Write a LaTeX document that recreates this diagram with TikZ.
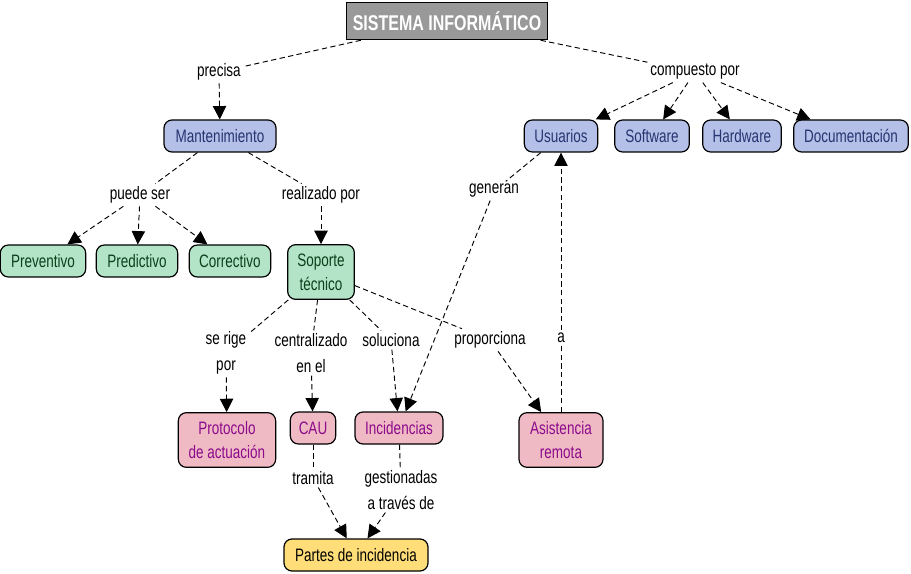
\documentclass[tikz,border=0pt]{standalone}
\usepackage{fontspec}
\setmainfont[FakeStretch=0.75]{Liberation Sans}
\usetikzlibrary{arrows.meta}

\definecolor{rootgray}{RGB}{153,153,153}
\definecolor{bluefill}{RGB}{180,192,232}
\definecolor{bluetext}{RGB}{38,52,112}
\definecolor{greenfill}{RGB}{180,228,200}
\definecolor{greentext}{RGB}{10,64,26}
\definecolor{pinkfill}{RGB}{240,186,196}
\definecolor{pinktext}{RGB}{140,10,140}
\definecolor{yellowfill}{RGB}{255,222,122}

\tikzset{
	concept/.style={draw=black, line width=0.9pt, rounded corners=6pt, align=center, inner xsep=5pt,
		minimum height=24pt, font=\fontsize{13.5}{18}\selectfont},
	bluebox/.style={concept, fill=bluefill, text=bluetext},
	greenbox/.style={concept, fill=greenfill, text=greentext},
	pinkbox/.style={concept, fill=pinkfill, text=pinktext},
	yellowbox/.style={concept, fill=yellowfill, text=black},
	linkword/.style={align=center, inner sep=2pt, font=\fontsize{13.5}{19.5}\selectfont},
	link/.style={dashed, dash pattern=on 4pt off 2.5pt, line width=0.7pt, black},
	linkto/.style={link, -{Triangle[length=10pt, width=10pt]}}
}

\begin{document}
\begin{tikzpicture}[x=0.75pt, y=-0.75pt]
	\useasboundingbox (0, 0) rectangle (911, 574);

	\node[draw=black, line width=0.9pt, fill=rootgray, text=white, minimum width=151pt, minimum height=28pt,
		font=\fontsize{16}{18}\selectfont\bfseries] (sistema) at (447, 21) {SISTEMA INFORMÁTICO};

	\node[bluebox, minimum width=84pt]	(mant) at (220, 136) {Mantenimiento};
	\node[bluebox, minimum width=55pt]	(usu) at (561, 136) {Usuarios};
	\node[bluebox, minimum width=56pt]	(soft) at (652, 136) {Software};
	\node[bluebox, minimum width=59pt]	(hard) at (742, 136) {Hardware};
	\node[bluebox, minimum width=86pt]	(doc) at (851, 136) {Documentación};

	\node[greenbox, minimum width=64pt]	(prev) at (43, 261) {Preventivo};
	\node[greenbox, minimum width=61pt]	(pred) at (137, 261) {Predictivo};
	\node[greenbox, minimum width=61pt]	(corr) at (230, 261) {Correctivo};
	\node[greenbox, minimum width=50pt, minimum height=41pt]	(sop) at (321, 272) {Soporte\\técnico};

	\node[pinkbox, minimum width=73pt, minimum height=41pt]	(prot) at (227, 440) {Protocolo\\de actuación};
	\node[pinkbox, minimum width=34pt]	(cau) at (313, 428) {CAU};
	\node[pinkbox, minimum width=66pt]	(inc) at (399, 428) {Incidencias};
	\node[pinkbox, minimum width=63pt, minimum height=41pt]	(asis) at (561, 440) {Asistencia\\remota};

	\node[yellowbox, minimum width=108pt]	(partes) at (356, 555) {Partes de incidencia};

	\node[linkword]	(precisa) at (219, 72) {precisa};
	\node[linkword]	(compuesto) at (695, 72) {compuesto por};
	\node[linkword]	(puede) at (140, 195) {puede ser};
	\node[linkword]	(realizado) at (321, 195) {realizado por};
	\node[linkword]	(generan) at (494, 191) {generan};
	\node[linkword]	(rige) at (226, 353) {se rige\\por};
	\node[linkword]	(centr) at (311, 353) {centralizado\\en el};
	\node[linkword]	(soluciona) at (391, 340) {soluciona};
	\node[linkword]	(proporciona) at (490, 340) {proporciona};
	\node[linkword]	(alink) at (561, 338) {a};
	\node[linkword]	(tramita) at (313, 478) {tramita};
	\node[linkword]	(gest) at (401, 490) {gestionadas\\a través de};

	\draw[link]		(sistema) to (precisa);
	\draw[linkto]	(precisa) to (mant);
	\draw[link]		(sistema) to (compuesto);
	\draw[linkto]	(compuesto) to (usu);
	\draw[linkto]	(compuesto) to (soft);
	\draw[linkto]	(compuesto) to (hard);
	\draw[linkto]	(compuesto) to (doc);

	\draw[link]		(mant) to (puede);
	\draw[linkto]	(puede) to (prev);
	\draw[linkto]	(puede) to (pred);
	\draw[linkto]	(puede) to (corr);
	\draw[link]		(mant) to (realizado);
	\draw[linkto]	(realizado) to (sop);

	\draw[link]		(usu) to (generan);
	\draw[linkto]	(generan) to (inc);

	\draw[link]		(sop) to (rige);
	\draw[linkto]	(rige) to (prot);
	\draw[link]		(sop) to (centr);
	\draw[linkto]	(centr) to (cau);
	\draw[link]		(sop) to (soluciona);
	\draw[linkto]	(soluciona) to (inc);
	\draw[link]		(sop) to (proporciona);
	\draw[linkto]	(proporciona) to (asis);

	\draw[link]		(asis) to (alink);
	\draw[linkto]	(alink) to (usu);

	\draw[link]		(cau) to (tramita);
	\draw[linkto]	(tramita) to (partes);
	\draw[link]		(inc) to (gest);
	\draw[linkto]	(gest) to (partes);
\end{tikzpicture}
\end{document}
